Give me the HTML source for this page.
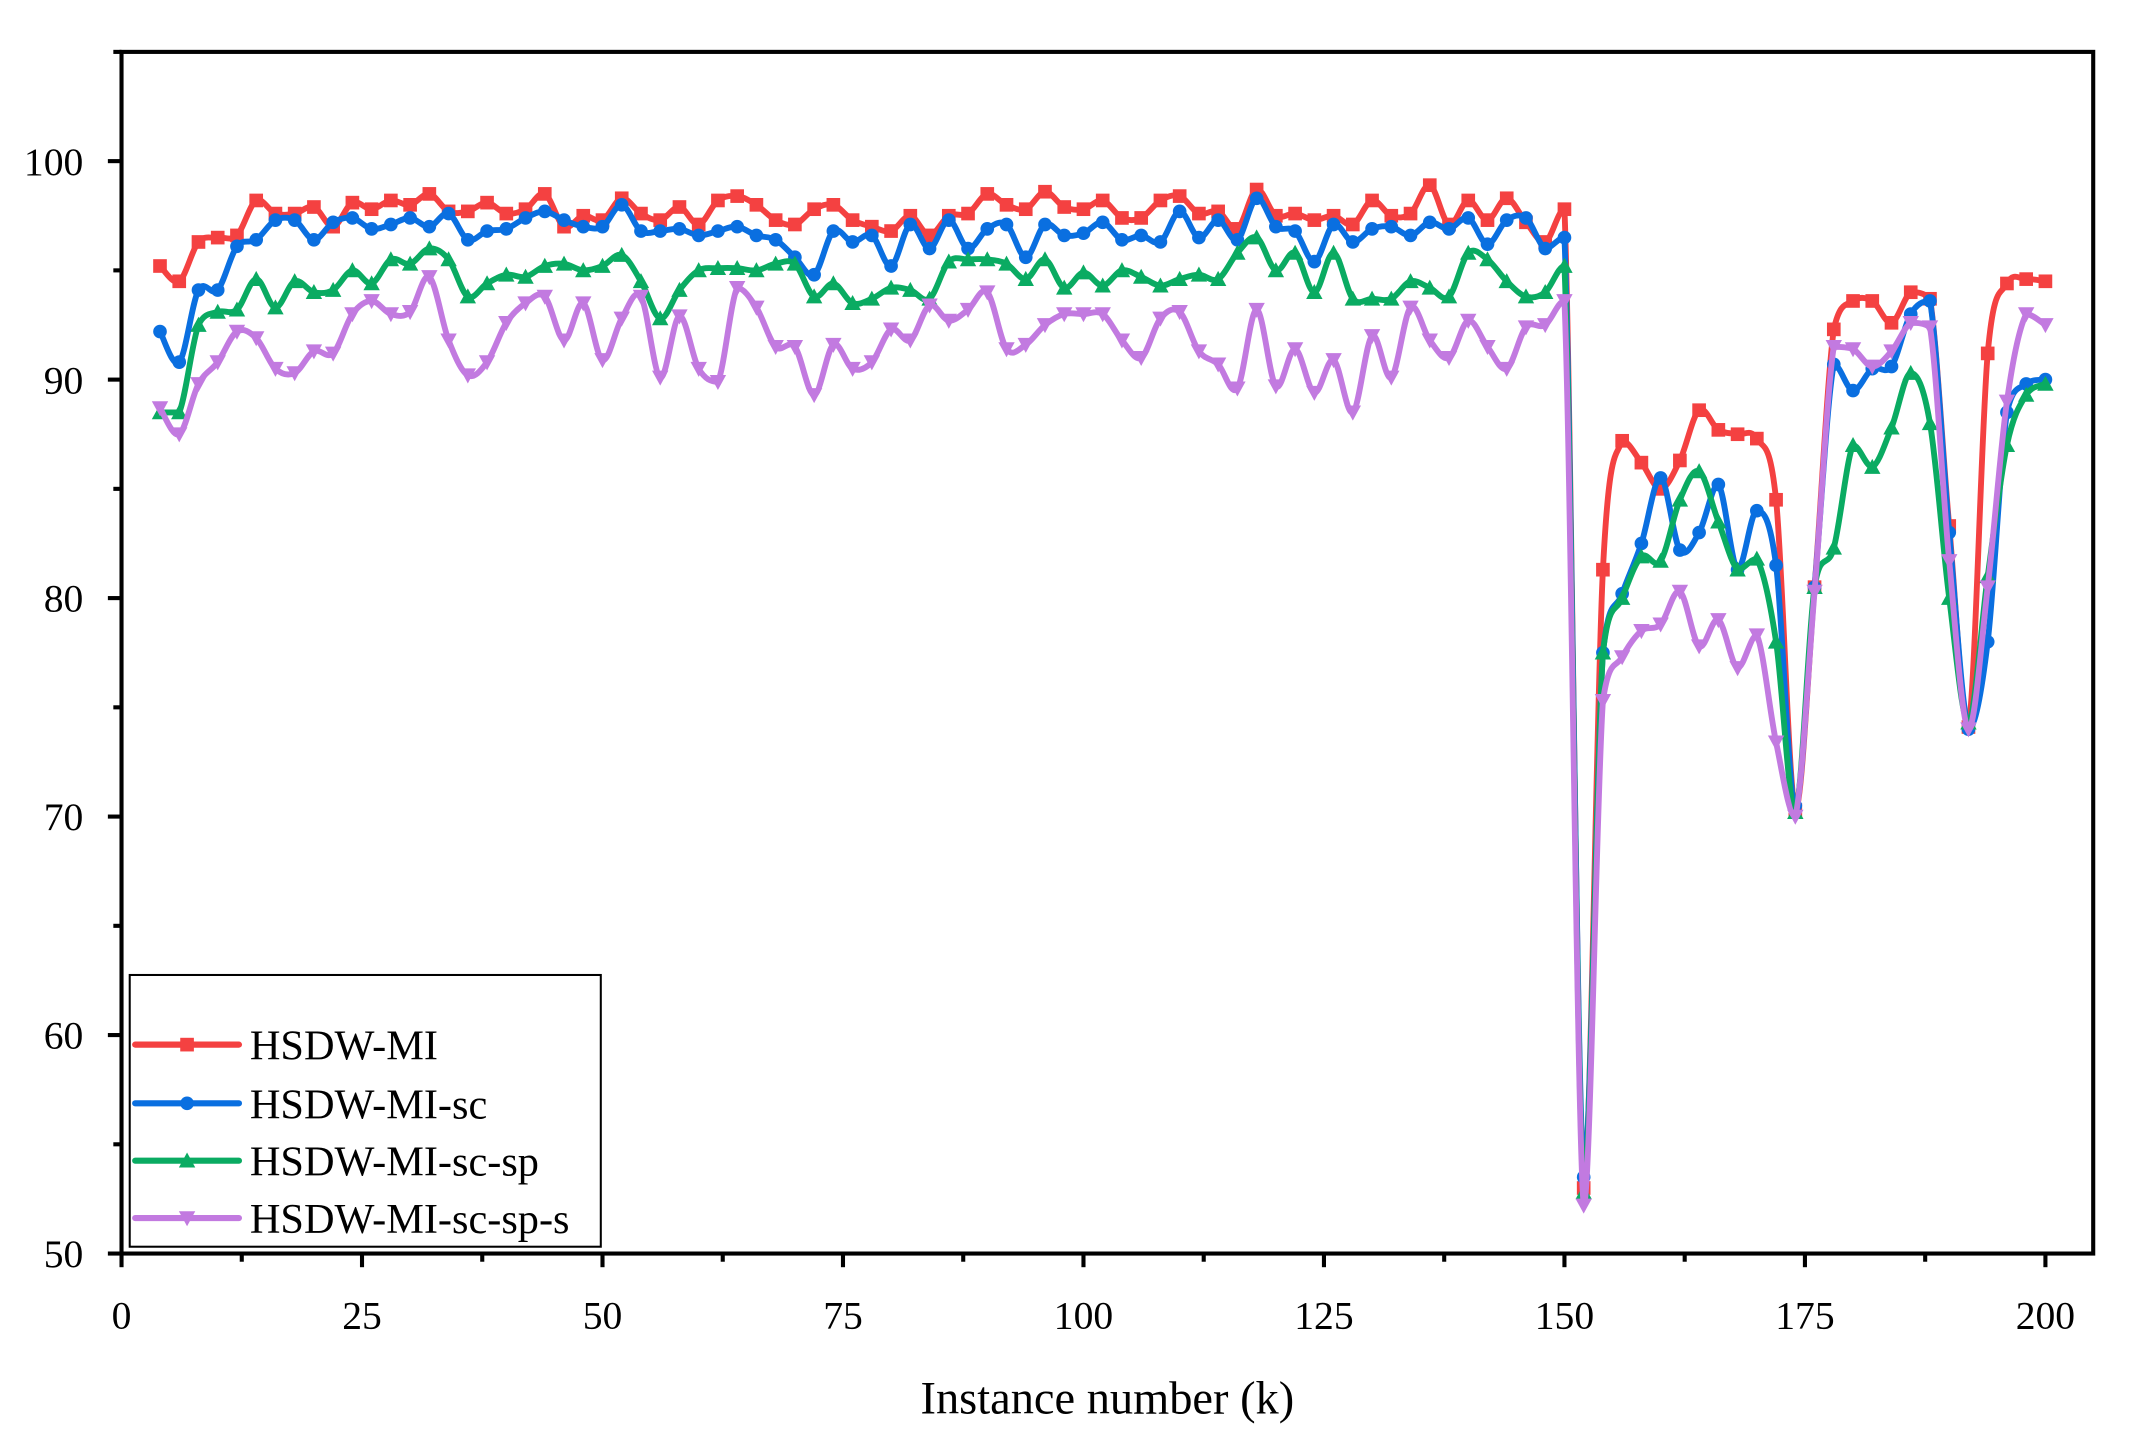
<!DOCTYPE html>
<html><head><meta charset="utf-8"><style>
html,body{margin:0;padding:0;background:#fff;}
svg{display:block;}
text{font-family:"Liberation Serif",serif;fill:#000;}
</style></head><body>
<svg id="c" width="2141" height="1451" viewBox="0 0 1568 1062.6" preserveAspectRatio="none" xmlns="http://www.w3.org/2000/svg">
<rect x="0" y="0" width="1568" height="1063" fill="#fff"/>
<g id="series"></g>
<rect x="89" y="38" width="1444" height="880" fill="none" stroke="#000" stroke-width="3"/>
<g id="axes"></g>
<g>
<rect x="95" y="714" width="345" height="199" fill="#fff" stroke="#000" stroke-width="1.5"/>
<text x="183" y="776" font-size="31">HSDW-MI</text>
<text x="183" y="819" font-size="31">HSDW-MI-sc</text>
<text x="183" y="861" font-size="31">HSDW-MI-sc-sp</text>
<text x="183" y="903" font-size="31">HSDW-MI-sc-sp-s</text>
<g id="leg"></g>
</g>
<text x="811" y="1035" font-size="34" text-anchor="middle">Instance number (k)</text>
</svg>
<script>
var NS="http://www.w3.org/2000/svg";
function X(v){return 89+v*7.045;}
function Y(v){return 918-(v-50)*16;}
function el(t,a,p){var e=document.createElementNS(NS,t);for(var k in a)e.setAttribute(k,a[k]);p.appendChild(e);return e;}
var ax=document.getElementById('axes');
for(var v=0;v<=200;v+=12.5){var maj=(v%25===0);el('line',{x1:X(v),y1:918,x2:X(v),y2:918+(maj?10:6),stroke:'#000','stroke-width':3},ax);
 if(maj){var t=el('text',{x:X(v),y:973,'font-size':29,'text-anchor':'middle'},ax);t.textContent=v;}}
for(var v=50;v<=105;v+=5){var maj=(v%10===0);el('line',{x1:89,y1:Y(v),x2:89-(maj?10:6),y2:Y(v),stroke:'#000','stroke-width':3},ax);
 if(maj){var t=el('text',{x:61,y:Y(v)+10,'font-size':29,'text-anchor':'end'},ax);t.textContent=v;}}
var R=[95.2,94.5,96.3,96.5,96.6,98.2,97.6,97.6,97.9,97.0,98.1,97.8,98.2,98.0,98.5,97.7,97.7,98.1,97.6,97.8,98.5,97.0,97.5,97.3,98.3,97.6,97.3,97.9,97.1,98.2,98.4,98.0,97.3,97.1,97.8,98.0,97.3,97.0,96.8,97.5,96.6,97.5,97.6,98.5,98.0,97.8,98.6,97.9,97.8,98.2,97.4,97.4,98.2,98.4,97.6,97.7,96.9,98.7,97.5,97.6,97.3,97.5,97.1,98.2,97.5,97.6,98.9,97.1,98.2,97.3,98.3,97.2,96.3,97.8,53,81.3,87.2,86.2,85.0,86.3,88.6,87.7,87.5,87.3,84.5,70.3,80.5,92.3,93.6,93.6,92.6,94.0,93.7,83.3,74.1,91.2,94.4,94.6,94.5];
var B=[92.2,90.8,94.1,94.1,96.1,96.4,97.3,97.3,96.4,97.2,97.4,96.9,97.1,97.4,97.0,97.6,96.4,96.8,96.9,97.4,97.7,97.3,97.0,97.0,98.0,96.8,96.8,96.9,96.6,96.8,97.0,96.6,96.4,95.6,94.8,96.8,96.3,96.6,95.2,97.1,96.0,97.3,96.0,96.9,97.1,95.6,97.1,96.6,96.7,97.2,96.4,96.6,96.3,97.7,96.5,97.3,96.4,98.3,97.0,96.8,95.4,97.1,96.3,96.9,97.0,96.6,97.2,96.9,97.4,96.2,97.3,97.4,96.0,96.5,53.5,77.5,80.2,82.5,85.5,82.2,83.0,85.2,81.3,84.0,81.5,70.5,80.5,90.7,89.5,90.5,90.6,93.0,93.6,83,74.0,78.0,88.5,89.8,90.0];
var G=[88.5,88.5,92.5,93.1,93.2,94.6,93.3,94.5,94.0,94.1,95.0,94.4,95.5,95.3,96.0,95.5,93.8,94.4,94.8,94.7,95.2,95.3,95.0,95.2,95.7,94.5,92.8,94.1,95.0,95.1,95.1,95.0,95.3,95.3,93.8,94.4,93.5,93.7,94.2,94.1,93.7,95.4,95.5,95.5,95.3,94.6,95.5,94.2,94.9,94.3,95.0,94.7,94.3,94.6,94.8,94.6,95.8,96.5,95.0,95.8,94.0,95.8,93.7,93.7,93.7,94.5,94.2,93.8,95.8,95.5,94.5,93.8,94.0,95.2,52.8,77.5,80.0,81.9,81.7,84.5,85.8,83.5,81.3,81.8,78.0,70.2,80.5,82.3,87.0,86.0,87.8,90.3,88.0,80.0,74.3,81.0,87.0,89.3,89.8];
var P=[88.7,87.5,89.8,90.8,92.2,91.9,90.5,90.3,91.3,91.2,93.0,93.6,93.0,93.1,94.7,91.8,90.2,90.8,92.6,93.5,93.8,91.8,93.5,90.9,92.8,93.8,90.1,92.9,90.5,89.9,94.2,93.3,91.5,91.5,89.3,91.6,90.5,90.8,92.3,91.8,93.4,92.7,93.2,94.0,91.4,91.6,92.5,93.0,93.0,93.0,91.8,91.0,92.8,93.1,91.3,90.7,89.6,93.2,89.7,91.4,89.4,90.9,88.5,92.0,90.1,93.3,91.8,91.0,92.7,91.5,90.5,92.4,92.5,93.6,52.2,75.3,77.3,78.5,78.8,80.3,77.8,79.0,76.8,78.3,73.4,70.0,80.3,91.5,91.4,90.6,91.3,92.6,92.4,81.7,74.0,80.5,89,93.0,92.5];
var S=[[R,'#f44141','sq'],[B,'#0a6fe0','ci'],[G,'#0aab62','up'],[P,'#c27ae0','dn']];
function marker(type,x,y,col,p){var s=5;
 if(type=='sq')el('rect',{x:x-s,y:y-s,width:2*s,height:2*s,fill:col},p);
 else if(type=='ci')el('circle',{cx:x,cy:y,r:s,fill:col},p);
 else if(type=='up')el('polygon',{points:(x-s-1)+','+(y+s)+' '+(x+s+1)+','+(y+s)+' '+x+','+(y-s-1),fill:col},p);
 else el('polygon',{points:(x-s-1)+','+(y-s)+' '+(x+s+1)+','+(y-s)+' '+x+','+(y+s+1),fill:col},p);}
function cl(v,a,b){var lo=Math.min(a,b),hi=Math.max(a,b);return Math.max(lo,Math.min(hi,v));}
var g=document.getElementById('series');
S.forEach(function(s){var d=s[0],pts=d.map(function(v,i){return [X(4+2*i),Y(v)];});
 var path='M'+pts[0][0]+','+pts[0][1];
 for(var i=0;i<pts.length-1;i++){var p0=pts[Math.max(0,i-1)],p1=pts[i],p2=pts[i+1],p3=pts[Math.min(pts.length-1,i+2)];
  var c1x=p1[0]+(p2[0]-p0[0])/6,c1y=p1[1]+(p2[1]-p0[1])/6,c2x=p2[0]-(p3[0]-p1[0])/6,c2y=p2[1]-(p3[1]-p1[1])/6;
  var big=Math.abs(p0[1]-p1[1])>60||Math.abs(p2[1]-p1[1])>60||Math.abs(p3[1]-p2[1])>60;
  if(big){c1y=cl(c1y,p1[1],p2[1]);c2y=cl(c2y,p1[1],p2[1]);}
  path+=' C'+c1x+','+c1y+' '+c2x+','+c2y+' '+p2[0]+','+p2[1];}
 el('path',{d:path,fill:'none',stroke:s[1],'stroke-width':4.3,'stroke-linejoin':'round'},g);
 pts.forEach(function(p){marker(s[2],p[0],p[1],s[1],g);});});
var lg=document.getElementById('leg');var ly=[765,808,850,892];
S.forEach(function(s,i){el('line',{x1:99,y1:ly[i],x2:175,y2:ly[i],stroke:s[1],'stroke-width':4.5,'stroke-linecap':'round'},lg);marker(s[2],137,ly[i],s[1],lg);});
</script>
</body></html>
